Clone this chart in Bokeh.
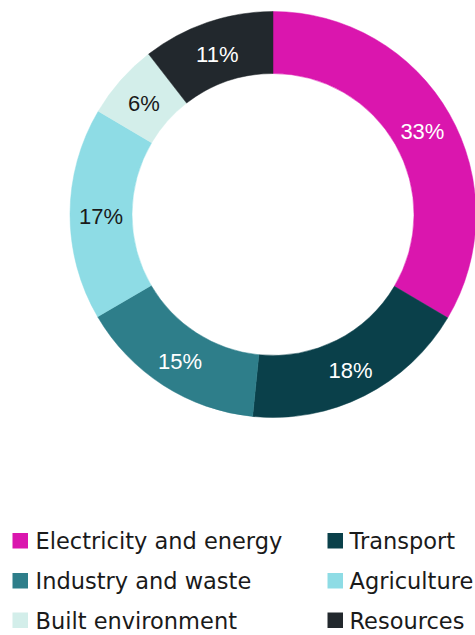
import math
from bokeh.plotting import figure
from bokeh.models import ColumnDataSource, Range1d
from bokeh.core.properties import value
from bokeh.embed import file_html
from bokeh.resources import INLINE

categories = ["Electricity and energy", "Transport", "Industry and waste",
              "Agriculture", "Built environment", "Resources"]
shares = [33.5, 18.1, 15.0, 16.9, 6.0, 10.5]
share_labels = ["33%", "18%", "15%", "17%", "6%", "11%"]
colors = ["#DA16AE", "#0A404A", "#2E7E8A", "#8EDCE5", "#D3EEEA", "#22282D"]
label_colors = ["#FFFFFF", "#FFFFFF", "#FFFFFF", "#1A1A1A", "#1A1A1A", "#FFFFFF"]

W, H = 475, 635
cx, cy = 272.5, H - 214.0
r_in, r_out = 141.0, 203.0

total = sum(shares)
starts, ends, lx, ly = [], [], [], []
acc = 0.0
for s in shares:
    a0 = math.pi / 2 - 2 * math.pi * acc / total
    a1 = math.pi / 2 - 2 * math.pi * (acc + s) / total
    starts.append(a0)
    ends.append(a1)
    mid = (a0 + a1) / 2
    rm = (r_in + r_out) / 2
    lx.append(cx + rm * math.cos(mid))
    ly.append(cy + rm * math.sin(mid) - 2.5)
    acc += s

src = ColumnDataSource(dict(start=starts, end=ends, color=colors, x=lx, y=ly,
                            text=share_labels, tcolor=label_colors))

p = figure(width=W, height=H, output_backend="svg", toolbar_location=None,
           x_range=Range1d(0, W), y_range=Range1d(0, H),
           min_border=0, outline_line_color=None)
p.axis.visible = False
p.grid.visible = False
p.background_fill_color = "white"

p.annular_wedge(x=cx, y=cy, inner_radius=r_in, outer_radius=r_out,
                start_angle="start", end_angle="end", direction="clock",
                fill_color="color", line_color="color", line_width=0.5, source=src)
p.text(x="x", y="y", text="text", text_color="tcolor", source=src,
       text_font=value("Liberation Sans"), text_font_size="22px",
       text_align="center", text_baseline="middle")

# legend (two columns, row-major)
col_x = [12, 327]
text_x = [35, 349]
row_top = [532.5, 572.5, 612]
sq = 15.5
leg_x, leg_y, leg_tx, leg_ty = [], [], [], []
for i, c in enumerate(categories):
    r, k = divmod(i, 2)
    leg_x.append(col_x[k] + sq / 2)
    leg_y.append(H - (row_top[r] + sq / 2))
    leg_tx.append(text_x[k])
    leg_ty.append(H - (row_top[r] + sq / 2 + 0.5))
lsrc = ColumnDataSource(dict(x=leg_x, y=leg_y, tx=leg_tx, ty=leg_ty,
                             color=colors, text=categories))
p.rect(x="x", y="y", width=sq, height=sq, fill_color="color", line_color=None, source=lsrc)
p.text(x="tx", y="ty", text="text", source=lsrc, text_color="#1A1A1A",
       text_font=value("DejaVu Sans"), text_font_size="22.5px",
       text_align="left", text_baseline="middle")

open("out.html", "w").write(file_html(p, INLINE))
